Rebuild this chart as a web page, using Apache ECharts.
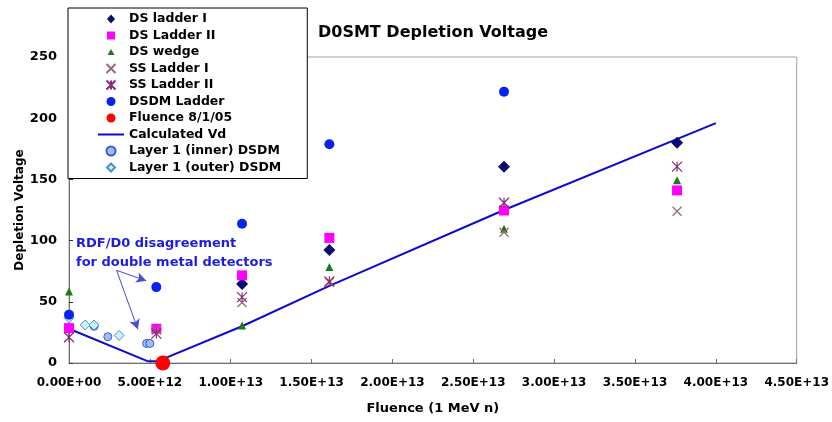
<!DOCTYPE html>
<html>
<head>
<meta charset="utf-8">
<script src="https://cdn.jsdelivr.net/npm/echarts@6/dist/echarts.min.js"></script>
<style>
html,body{margin:0;padding:0;background:#fff;}
#chart{width:832px;height:422px;}
</style>
</head>
<body>
<div id="chart"></div>
<script>
// ---- data (fluence [1 MeV n/cm^2], depletion voltage [V]) ----
const dsLadderI   = [[1.07e13,64.5],[1.61e13,92.4],[2.69e13,160.4],[3.76e13,180]];
const dsLadderII  = [[0,28.5],[5.4e12,28],[1.07e13,71.6],[1.61e13,102.2],[2.69e13,124.6],[3.76e13,141]];
const dsWedge     = [[0,58.5],[1.07e13,30.6],[1.61e13,78.4],[2.69e13,109.6],[3.76e13,149.4]];
const ssLadderI   = [[5.4e12,27],[1.07e13,49.4],[1.61e13,66],[2.69e13,106.8],[3.76e13,124]];
const ssLadderII  = [[0,21],[5.4e12,24],[1.07e13,53.8],[1.61e13,66.7],[2.69e13,130.9],[3.76e13,160.4]];
const dsdmLadder  = [[0,39.5],[5.4e12,62],[1.07e13,113.7],[1.61e13,178.7],[2.69e13,221.6]];
const fluence0801 = [[5.8e12,0]];
const calcVd      = [[0,28],[4.85e12,1.5],[5.5e12,1.5],[1.07e13,30],[1.61e13,63],[2.69e13,125],[4.0e13,196]];
const layer1Inner = [[0,38],[1.55e12,30],[2.4e12,21.5],[4.8e12,16],[5.0e12,16]];
const layer1Outer = [[0,37],[1.0e12,31],[1.55e12,31],[3.1e12,22.5]];
const arrowFrom = [2.94e12,75.7];
const arrowTo1  = [4.78e12,67.2];
const arrowTo2  = [4.26e12,27.6];
const legendNames = ['DS ladder I','DS Ladder II','DS wedge','SS Ladder I','SS Ladder II','DSDM Ladder','Fluence 8/1/05','Calculated Vd','Layer 1 (inner) DSDM','Layer 1 (outer) DSDM'];
const xTicks = {min:0, max:4.5e13, interval:5e12};
const yTicks = {min:0, max:250, interval:50};

const FONT = 'DejaVu Sans';
function fmtE(v){
  if (Math.abs(v) < 1) return '0.00E+00';
  const e = Math.floor(Math.log10(v) + 1e-9);
  const m = v / Math.pow(10, e);
  return m.toFixed(2) + 'E+' + String(e).padStart(2,'0');
}
const X_PATH = 'path://M0,0L10,10M10,0L0,10';
const STAR_PATH = 'path://M0,0L10,10M10,0L0,10M5,0L5,10';
// legend icons padded to the 26x9 legend icon box so they are not stretched
const PAD = 'M0,0L0,0M26,9L26,9';
const legendIcons = {
  'DS ladder I': 'path://' + PAD + 'M13,0L17,4.5L13,9L9,4.5Z',
  'DS Ladder II': 'path://' + PAD + 'M9,0.5L17,0.5L17,8.5L9,8.5Z',
  'DS wedge': 'path://' + PAD + 'M13,1.5L16.5,7.5L9.5,7.5Z',
  'Calculated Vd': 'path://M0,0L26,0L26,2L0,2Z',
  'Layer 1 (outer) DSDM': 'path://' + PAD + 'M13,0.5L17,4.5L13,8.5L9,4.5Z'
};
const legendData = legendNames.map(n => {
  if (n === 'Calculated Vd') return {name:n, icon:legendIcons[n], itemStyle:{color:'#0b0bd0', borderWidth:0}};
  if (legendIcons[n]) return {name:n, icon:legendIcons[n]};
  return {name:n};
});

const sc = (extra) => Object.assign({type:'scatter', symbolKeepAspect:true}, extra);

const chart = echarts.init(document.getElementById('chart'), null, {renderer:'canvas'});
chart.setOption({
  animation:false,
  backgroundColor:'#fff',
  title:{
    text:'D0SMT Depletion Voltage', left:318, top:25, padding:0,
    textStyle:{fontFamily:FONT, fontSize:16, fontWeight:'bold', color:'#000'}
  },
  grid:{left:69, right:30, top:57, bottom:59, show:true, borderColor:'#a0a0a0', borderWidth:1},
  legend:{
    data:legendData, orient:'vertical', left:68, top:8,
    padding:[4,26,4,29], itemWidth:26, itemHeight:9, itemGap:2.5,
    backgroundColor:'#fff', borderColor:'#000', borderWidth:1,
    textStyle:{fontFamily:FONT, fontSize:12.5, fontWeight:'bold', color:'#000', lineHeight:14},
    selectedMode:false
  },
  xAxis:{
    type:'value', min:xTicks.min, max:xTicks.max, interval:xTicks.interval,
    name:'Fluence (1 MeV n)', nameLocation:'middle', nameGap:39,
    nameTextStyle:{fontFamily:FONT, fontSize:13, fontWeight:'bold', color:'#000'},
    axisLine:{show:true, lineStyle:{color:'#707070', width:1}},
    axisTick:{show:true, inside:true, length:4, lineStyle:{color:'#707070'}},
    axisLabel:{formatter:fmtE, fontFamily:FONT, fontSize:12, fontWeight:'bold', color:'#000', margin:14},
    splitLine:{show:false}
  },
  yAxis:{
    type:'value', min:yTicks.min, max:yTicks.max, interval:yTicks.interval,
    name:'Depletion Voltage', nameLocation:'middle', nameGap:43, nameMoveOverlap:false,
    nameTextStyle:{fontFamily:FONT, fontSize:12, fontWeight:'bold', color:'#000'},
    axisLine:{show:true, lineStyle:{color:'#707070', width:1}},
    axisTick:{show:true, inside:true, length:4, lineStyle:{color:'#303030'}},
    axisLabel:{fontFamily:FONT, fontSize:13, fontWeight:'bold', color:'#000', margin:12},
    splitLine:{show:false}
  },
  graphic:[{
    type:'text', left:76, top:234, silent:true,
    style:{text:'RDF/D0 disagreement\nfor double metal detectors', fill:'#1c1ce0',
      font:'bold 13px "DejaVu Sans"', lineHeight:19}
  }],
  series:[
    {name:'Calculated Vd', type:'line', data:calcVd, symbol:'none', z:2,
     lineStyle:{color:'#0b0bd0', width:2}, itemStyle:{color:'#0b0bd0'},
     markLine:{silent:true, symbol:['none','arrow'], symbolSize:[8,10],
       lineStyle:{color:'#4a4ad6', width:1, type:'solid'}, label:{show:false},
       data:[[{coord:arrowFrom},{coord:arrowTo1}],[{coord:arrowFrom},{coord:arrowTo2}]]}},
    sc({name:'Layer 1 (inner) DSDM', data:layer1Inner, symbol:'circle', symbolSize:8, z:3,
     itemStyle:{color:'#9fbcf5', borderColor:'#3a5ccc', borderWidth:1, opacity:1}}),
    sc({name:'Layer 1 (outer) DSDM', data:layer1Outer, symbol:'diamond', symbolSize:10, z:3,
     itemStyle:{color:'#c8f4f8', borderColor:'#4b8fcf', borderWidth:1, opacity:1}}),
    sc({name:'DS ladder I', data:dsLadderI, symbol:'diamond', symbolSize:12, z:4,
     itemStyle:{color:'#0a0a70', opacity:1}}),
    sc({name:'DS Ladder II', data:dsLadderII, symbol:'rect', symbolSize:10, z:4,
     itemStyle:{color:'#ff00ff', opacity:1}}),
    sc({name:'DS wedge', data:dsWedge, symbol:'triangle', symbolSize:8, z:4,
     itemStyle:{color:'#1a7a1a', opacity:1}}),
    sc({name:'SS Ladder I', data:ssLadderI, symbol:X_PATH, symbolSize:9, z:5,
     itemStyle:{color:'#9a6a6a', borderColor:'#9a6a6a', borderWidth:1.2, opacity:1}}),
    sc({name:'SS Ladder II', data:ssLadderII, symbol:STAR_PATH, symbolSize:10, z:5,
     itemStyle:{color:'#8a2a7a', borderColor:'#8a2a7a', borderWidth:1.2, opacity:1}}),
    sc({name:'DSDM Ladder', data:dsdmLadder, symbol:'circle', symbolSize:10, z:4,
     itemStyle:{color:'#0a22f0', opacity:1}}),
    sc({name:'Fluence 8/1/05', data:fluence0801, symbol:'circle', symbolSize:15, z:6,
     itemStyle:{color:'#ff0000', opacity:1}})
  ]
});
</script>
</body>
</html>
